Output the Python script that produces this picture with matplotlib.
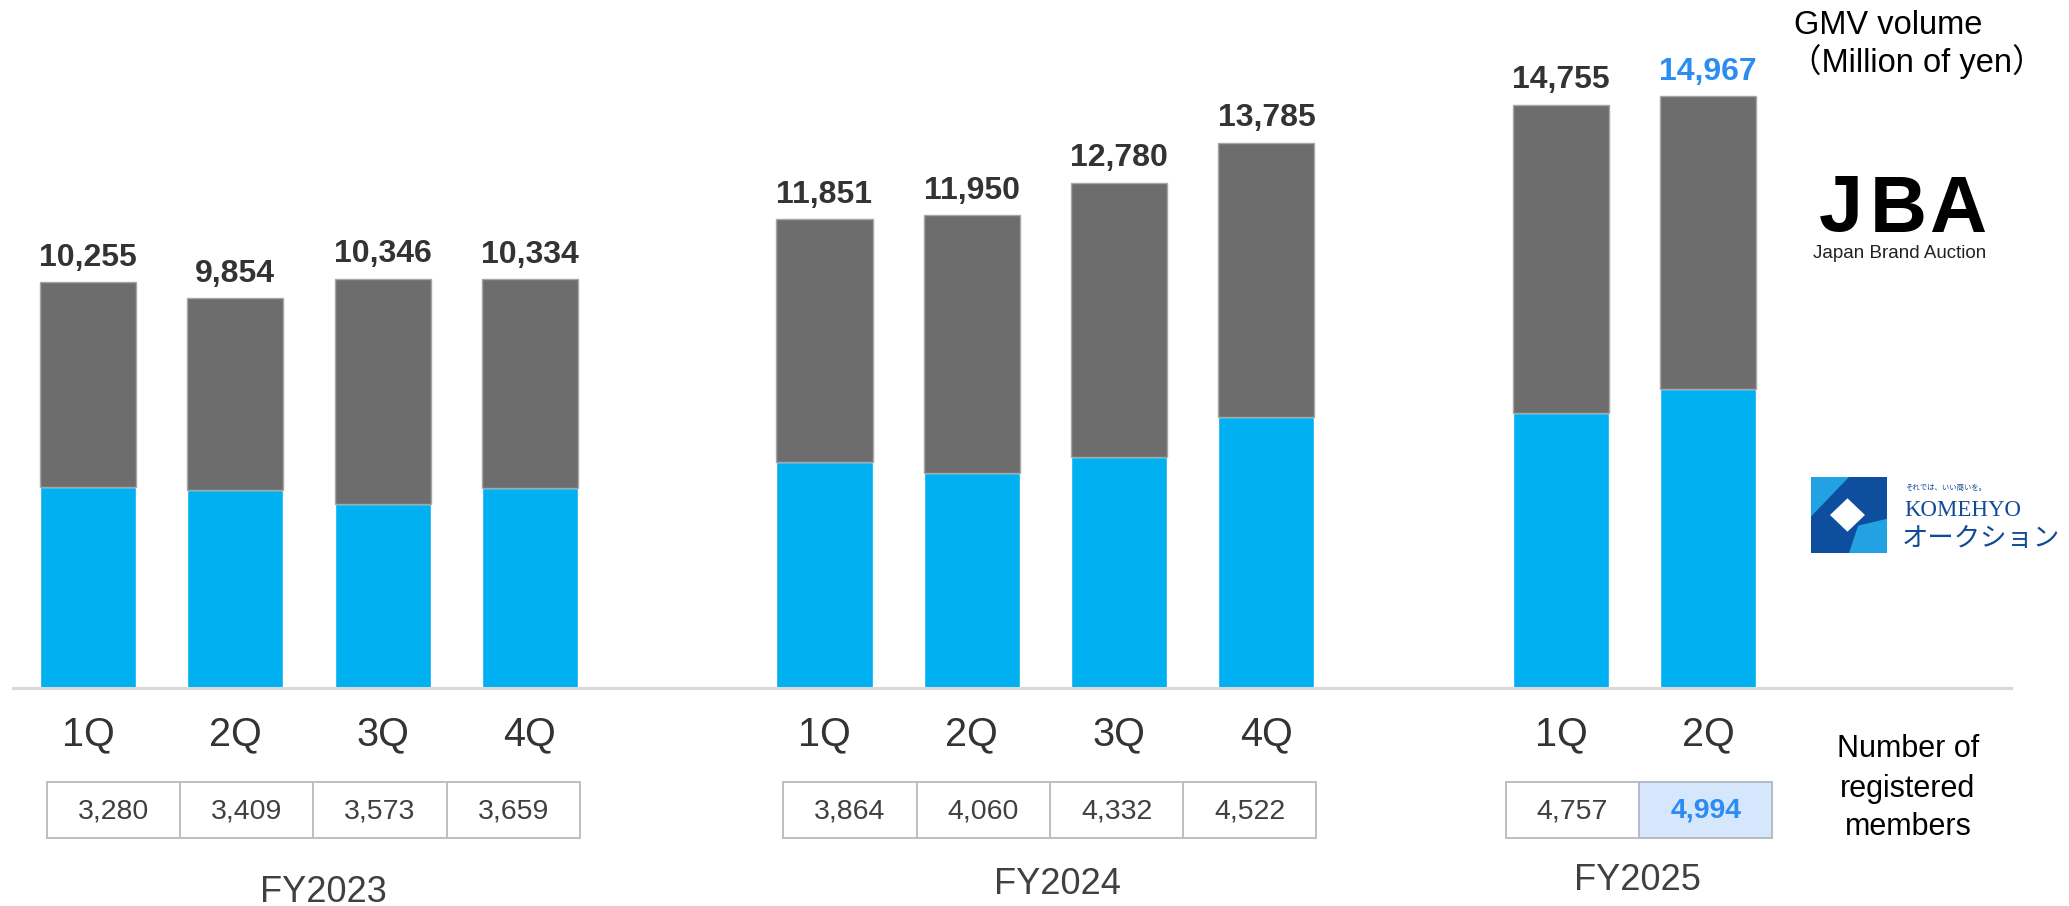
import matplotlib
matplotlib.use("Agg")
import matplotlib.pyplot as plt
from matplotlib.patches import Rectangle, Polygon
from matplotlib.transforms import Affine2D, blended_transform_factory
import numpy as np

# ---------------- data ----------------
fiscal_years = ["FY2023", "FY2024", "FY2025"]
quarters = [["1Q", "2Q", "3Q", "4Q"], ["1Q", "2Q", "3Q", "4Q"], ["1Q", "2Q"]]
gmv_total = [10255, 9854, 10346, 10334, 11851, 11950, 12780, 13785, 14755, 14967]
komehyo_gmv = [5080, 5010, 4640, 5060, 5715, 5435, 5840, 6860, 6960, 7550]
members = [3280, 3409, 3573, 3659, 3864, 4060, 4332, 4522, 4757, 4994]

# ---------------- style ----------------
W, H = 2069, 906
GRAY = "#6d6d6d"
BLUE = "#00b0f0"
HILITE = "#2b8cf2"
TXT = "#333333"
plt.rcParams["font.family"] = ["Liberation Sans", "Noto Sans CJK JP", "DejaVu Sans"]

fig = plt.figure(figsize=(W / 100, H / 100), dpi=100)
base_y = 687.5
ax = fig.add_axes([13 / W, (H - base_y) / H, (2011 - 13) / W, base_y / H])
ax.set_xlim(-0.509, 13.055)
ax.set_ylim(0, 17405)
ax.axis("off")

pix = Affine2D().scale(1 / W, -1 / H).translate(0, 1) + fig.transFigure
bt = blended_transform_factory(ax.transData, pix)

# positions: groups separated by one empty slot
positions = []
group_centers = []
start = 0
for qs in quarters:
    pos = [start + i for i in range(len(qs))]
    positions += pos
    group_centers.append(np.mean(pos))
    start += len(qs) + 1
positions = np.array(positions, dtype=float)

total = np.array(gmv_total)
kome = np.array(komehyo_gmv)
jba = total - kome

bw = 0.652
ax.bar(positions, kome, width=bw, color=BLUE, edgecolor="white", linewidth=1.0, zorder=2)
ax.bar(positions, jba, bottom=kome, width=bw, color=GRAY, edgecolor="#a6a6a6",
       linewidth=1.0, zorder=2)
ax.axhline(0, color="#d9d9d9", lw=2.2, clip_on=False, zorder=3)

n = len(total)
for i, (x, v) in enumerate(zip(positions, total)):
    col = HILITE if i == n - 1 else TXT
    ax.annotate(f"{v:,}", (x, v), xytext=(0, 12), textcoords="offset points",
                ha="center", va="baseline", fontsize=23, fontweight="bold", color=col)

# quarter labels
flat_q = [q for qs in quarters for q in qs]
for x, q in zip(positions, flat_q):
    ax.text(x, 734, q, transform=bt, ha="center", va="center", fontsize=28.5, color=TXT)

# member table
cell_w = 0.905
cell_top, cell_bot = 782, 838
k = 0
for g, qs in enumerate(quarters):
    nq = len(qs)
    left = group_centers[g] + 0.03 - nq * cell_w / 2
    for j in range(nq):
        last = (k == n - 1)
        face = "#d6e6fc" if last else "white"
        edge = "#b3bcc8" if last else "#bfbfbf"
        r = Rectangle((left + j * cell_w, cell_bot), cell_w, -(cell_bot - cell_top),
                      transform=bt, facecolor=face, edgecolor=edge, lw=1.4,
                      clip_on=False, zorder=4)
        ax.add_patch(r)
        ax.text(left + (j + 0.5) * cell_w, 811, f"{members[k]:,}", transform=bt,
                ha="center", va="center", fontsize=20.5, zorder=5,
                color=HILITE if last else "#404040",
                fontweight="bold" if last else "normal")
        k += 1

# fiscal year labels
fy_offsets = [0.10, 0.08, 0.02]
fy_y = [892, 884, 881]
for g, fy in enumerate(fiscal_years):
    ax.text(group_centers[g] + fy_offsets[g], fy_y[g], fy, transform=bt,
            ha="center", va="center", fontsize=26, color="#404040")

# right side annotations
fig.text(1888 / W, 1 - 25 / H, "GMV volume", ha="center", va="center", fontsize=23.5,
         color="black")
fig.text(1917 / W, 1 - 62 / H, "（Million of yen）", ha="center", va="center", fontsize=23.5,
         color="black")
for yy, s in zip([749, 789, 827], ["Number of", "registered", "members"]):
    fig.text(1908 / W, 1 - yy / H, s, ha="center", va="center", fontsize=22, color="black")

# JBA logo
for xc, ch in zip([1841, 1898.5, 1957.5], "JBA"):
    fig.text(xc / W, 1 - 211 / H, ch, ha="center", va="center", fontsize=57,
             fontweight="bold", color="black")
fig.text(1900 / W, 1 - 254 / H, "Japan Brand Auction", ha="center", va="center",
         fontsize=13.5, color="#222222")

# KOMEHYO logo
NAVY = "#124b95"
lax = fig.add_axes([1811 / W, 1 - 553 / H, 76 / W, 76 / H])
lax.set_xlim(0, 1)
lax.set_ylim(0, 1)
lax.axis("off")
lax.add_patch(Rectangle((0, 0), 1, 1, facecolor="#0d4f9e", edgecolor="none"))
lax.add_patch(Polygon([(0, 1), (0.5, 1), (0, 0.48)], closed=True,
                      facecolor="#22a2e3", edgecolor="none"))
lax.add_patch(Polygon([(0.5, 0), (1, 0), (1, 0.45), (0.62, 0.36)], closed=True,
                      facecolor="#22a2e3", edgecolor="none"))
lax.add_patch(Polygon([(0.48, 0.72), (0.71, 0.5), (0.48, 0.28), (0.25, 0.5)], closed=True,
                      facecolor="white", edgecolor="none"))
fig.text(1905 / W, 1 - 488 / H, "それでは、いい商いを。", ha="left", va="center",
         fontsize=5.3, color=NAVY, family=["Noto Sans CJK JP"])
fig.text(1904 / W, 1 - 510 / H, "KOMEHYO", ha="left", va="center", fontsize=16.5,
         color=NAVY, family=["Liberation Serif"])
fig.text(1902 / W, 1 - 539 / H, "オークション", ha="left", va="center", fontsize=19,
         color=NAVY, family=["Noto Sans CJK JP"])

fig.savefig("out.png", dpi=100)
